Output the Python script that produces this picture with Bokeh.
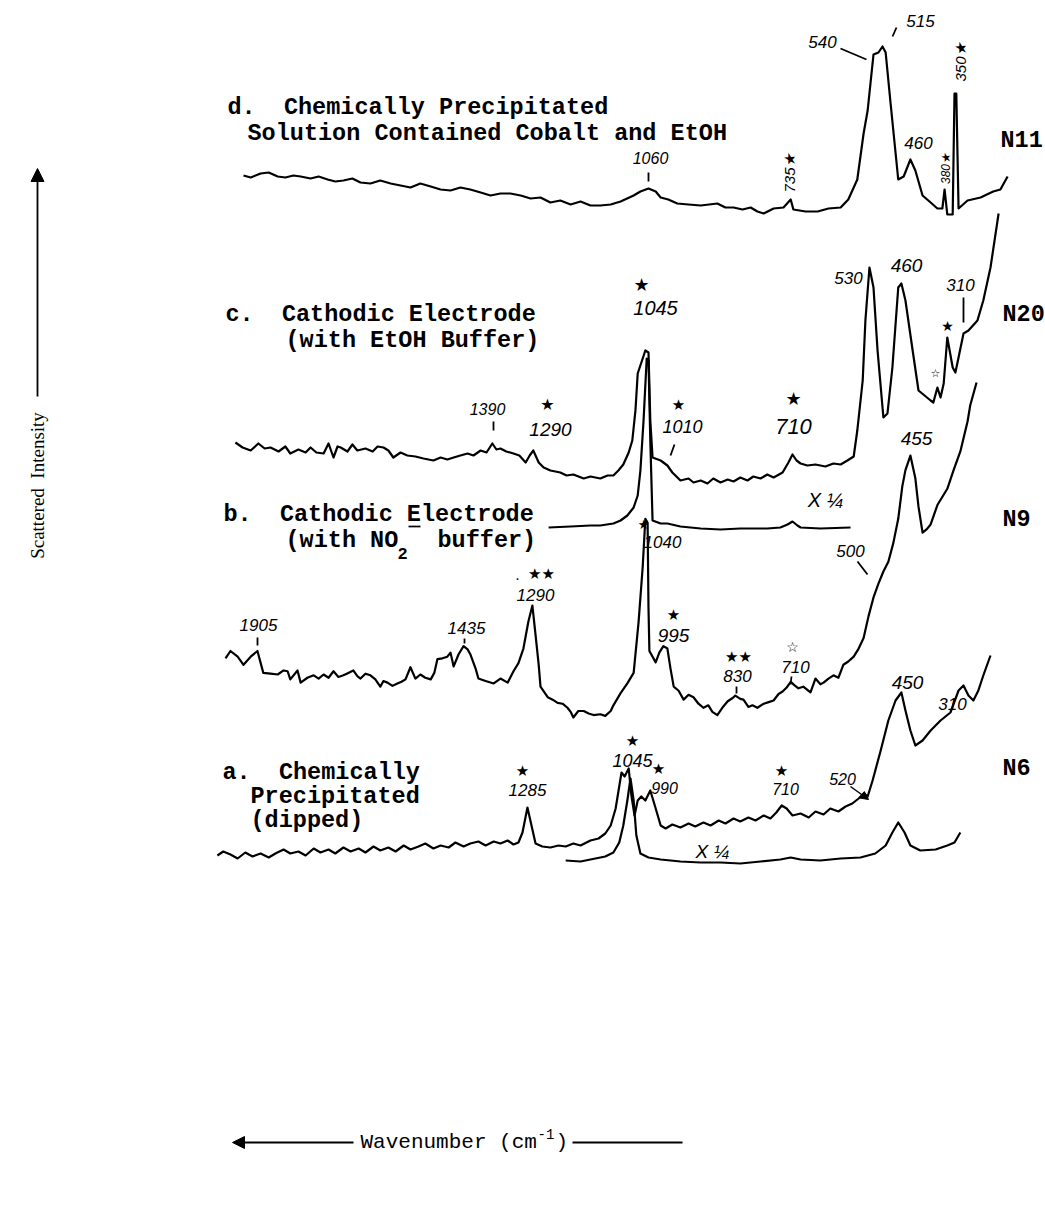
import math
from bokeh.plotting import figure
from bokeh.models import Range1d, Label, Arrow, NormalHead
from bokeh.embed import file_html
from bokeh.resources import INLINE

# ---------------- data (wavenumber cm-1, relative scattered intensity) ----------------
# d. chemically precipitated, cobalt + EtOH (N11)
d_wn = [1928,1912,1890,1872,1852,1835,1817,1801,1779,1761, 1741,1724,1706,1686,1668,1646,1624,1601,1579,1557,
        1535,1512,1490,1468,1446,1424,1401,1379,1357,1335, 1312,1290,1268,1246,1224,1201,1179,1157,1135,1112,
        1090,1061,1046,1028,1012,1001,984,964,939,912, 875,857,839,819,801,786,772,750,728,712,
        706,679,652,628,601,584,564,550,541,528, 517,508,501,490,473,461,446,435,419,401,
        386,375,370,364,352,348,344,339,319,290, 262,246,230]
d_int = [38,36,40,41,37,36,38,37,35,37, 34,32,33,35,31,30,33,30,28,26,
         30,27,24,23,26,24,21,18,20,20, 18,15,16,11,13,9,12,8,8,9,
         12,18,22,25,22,16,14,10,9,8, 10,6,6,4,6,2,0,5,6,14,
         4,2,2,5,6,14,34,80,103,159, 161,167,161,110,34,37,54,43,18,11,
         5,5,24,-1,-1,120,120,5,13,16, 22,24,37]

# c. cathodic electrode, EtOH buffer (N20)
c_wn = [1946,1930,1912,1895,1881,1868,1850,1835,1824,1806, 1790,1779,1766,1750,1739,1728,1719,1712,1697,1686,
        1675,1657,1641,1630,1617,1606,1595,1579,1564,1546, 1528,1506,1490,1475,1461,1446,1430,1417,1401,1388,
        1375,1366,1357,1344,1328,1315,1301,1292,1284,1272, 1261,1246,1224,1210,1195,1172,1157,1135,1119,1106,
        1095,1084,1072,1064,1057,1052,1035,1028,1024,1019, 1001,986,975,957,939,928,912,897,884,868,
        852,839,824,808,795,779,764,750,730,717, 708,699,690,675,657,635,617,601,586,572,
        564,552,546,537,528,519,506,497,486,473, 466,457,441,428,401,395,386,379,372,364,
        352,346,339,328,317,297,284,268,250]
c_int = [48,43,40,47,42,43,39,44,37,41, 38,43,38,37,47,33,44,43,39,46,
         40,42,39,44,43,40,33,38,35,34, 32,30,33,31,33,35,37,35,40,38,
         47,41,42,39,37,35,28,35,40,28, 23,20,18,15,16,12,14,12,15,15,
         20,26,38,50,80,117,140,138,70,33, 30,25,18,10,12,8,10,7,12,8,
         11,9,13,10,14,12,16,13,18,28, 36,30,27,25,26,24,27,26,30,34,
         60,110,170,223,203,140,73,77,123,203, 207,190,140,100,90,88,103,93,107,153,
         123,118,133,157,160,170,190,223,277]
# c. recorded at x 1/4
cq_wn = [1250,1201,1157,1135,1106,1090,1075,1061,1052,1046, 1039,1032,1028,1024,1019,1001,986,957,912,868,
         824,764,735,719,708,697,690,646,579]
cq_int = [0,1,2,2,4,7,12,20,32,57, 107,169,167,87,7,4,4,1,-1,-2,
          -1,-1,0,3,6,2,0,-1,0]

# b. cathodic electrode, NO2- buffer (N9)
b_wn = [1968,1957,1941,1928,1912,1897,1884,1868,1852,1839, 1830,1824,1808,1801,1786,1772,1761,1750,1739,1728,
        1717,1706,1695,1684,1675,1668,1657,1646,1635,1624, 1617,1608,1597,1586,1577,1568,1557,1546,1535,1524,
        1512,1504,1497,1486,1475,1468,1461,1450,1439,1430, 1424,1412,1406,1390,1372,1357,1341,1328,1317,1306,
        1295,1286,1279,1272,1268,1252,1241,1230,1219,1208, 1201,1195,1184,1172,1161,1150,1135,1124,1112,1106,
        1090,1075,1061,1050,1041,1035,1030,1028,1026,1012, 1004,995,986,979,972,961,950,939,928,917,
        906,895,886,875,864,852,841,835,824,817, 806,797,786,772,761,750,739,730,721,712,
        704,695,684,668,657,646,639,628,617,606, 595,584,572,561,550,539,528,517,506,495,
        484,473,464,457,446,435,428,419,410,401, 386,364,350,335,319,313,299]
b_int = [73,82,75,65,75,82,55,54,53,58, 57,47,58,43,49,52,48,53,49,57,
         50,52,55,58,51,48,54,52,47,38, 45,43,39,42,44,47,62,48,53,49,
         47,55,72,73,75,80,63,78,88,84, 78,60,48,45,42,48,43,57,67,85,
         118,138,102,65,38,25,22,18,17,12, 7,0,8,8,5,3,4,2,8,15,
         30,42,55,118,185,245,240,135,82,68, 80,88,85,60,38,33,22,28,25,17,
         12,15,7,3,12,20,24,27,23,22, 13,15,12,17,19,21,29,32,37,44,
         40,36,38,31,48,41,43,48,52,49, 65,69,75,85,98,125,148,165,180,192,
         215,245,285,305,323,295,260,228,232,238, 262,282,305,328,365,385,413]

# a. chemically precipitated, dipped (N6)
a_wn = [1986,1973,1957,1941,1924,1908,1890,1872,1857,1839, 1824,1806,1790,1772,1757,1739,1724,1706,1690,1672,
        1657,1639,1624,1606,1590,1572,1557,1539,1524,1506, 1490,1472,1457,1439,1424,1406,1390,1372,1357,1341,
        1328,1317,1308,1297,1288,1279,1264,1246,1228,1212, 1195,1179,1157,1139,1124,1112,1101,1088,1081,1072,
        1066,1059,1052,1044,1035,1024,1012,1001,990,975, 957,939,924,906,890,872,857,839,824,806,
        790,772,757,744,732,721,708,690,672,657, 639,624,606,590,575,561,550,541,530,512,
        495,479,466,457,446,435,419,401,379,357, 339,328,317,306,295,284,268]
a_int = [0,4,1,-3,3,-1,2,-2,2,6, 2,4,0,7,3,6,2,8,4,7,
         3,9,5,8,4,10,6,9,12,7, 10,8,13,9,12,14,10,14,12,15,
         11,13,23,48,30,12,9,8,10,9, 12,10,15,17,22,30,47,83,79,87,
         60,40,55,59,55,65,47,30,27,31, 28,32,29,33,30,35,32,37,34,38,
         35,40,37,43,50,47,40,42,38,44, 41,47,44,49,52,57,62,59,75,105,
         135,155,163,145,125,110,115,125,135,143, 165,170,160,155,165,180,200]
# a. recorded at x 1/4
aq_wn = [1212,1179,1146,1124,1106,1093,1084,1075,1068,1061, 1055,1046,1028,1001,957,912,868,824,779,735,
         712,690,646,601,557,524,501,486,473,459, 446,424,390,364,348,335]
aq_int = [2,1,4,6,10,20,37,62,84,62, 27,9,5,3,1,0,0,-1,1,3,
          5,3,2,4,5,9,17,30,40,30, 17,12,13,17,20,30]

# ---------------- layout ----------------
W, H = 1045, 1218
W0 = 2468.0          # wavenumber at the left edge
K = 20.0 / 9.0       # cm-1 per pixel
NB = "\u00a0"


def X(px):
    return W0 - K * px


def Y(py):
    return H - py


p = figure(width=W, height=H, x_range=Range1d(W0, X(W)), y_range=Range1d(0, H),
           output_backend="svg", toolbar_location=None, min_border=0,
           x_axis_type=None, y_axis_type=None)
p.grid.visible = False
p.outline_line_color = None
p.background_fill_color = "white"
p.border_fill_color = "white"

# (wavenumbers, intensities, baseline row in the page, display gain)
traces = [
    (d_wn, d_int, 213, 1.0),
    (c_wn, c_int, 490, 1.0),
    (cq_wn, cq_int, 527, 1.0),
    (b_wn, b_int, 717, 0.811),
    (a_wn, a_int, 855, 1.0),
    (aq_wn, aq_int, 862, 1.0),
]
for wn, inten, base, gain in traces:
    p.line(wn, [Y(base) + gain * v for v in inten], line_color="black", line_width=2.2, line_join="round")

TYPE = "Liberation Mono"
HAND = "Liberation Sans"
SYM = "DejaVu Sans"
CAP = "Liberation Serif"


def txt(px, py, s, size=18, font=HAND, style="italic", angle=0.0, align="center", baseline="middle"):
    p.add_layout(Label(x=X(px), y=Y(py), text=s.replace("  ", NB + NB), text_font=font,
                       text_font_size=f"{size}px", text_font_style=style, angle=angle,
                       text_align=align, text_baseline=baseline, text_color="black"))


def seg(x1, y1, x2, y2, w=1.8):
    p.line([X(x1), X(x2)], [Y(y1), Y(y2)], line_color="black", line_width=w)


def star(px, py, size=15):
    txt(px, py, "★", size=size, font=SYM, style="normal")


# typed titles
T = 23.5
TS = "bold"
txt(227, 107, "d.  Chemically Precipitated", T, TYPE, TS, align="left")
txt(247, 133, "Solution Contained Cobalt and EtOH", T, TYPE, TS, align="left")
txt(1000, 140, "N11", T, TYPE, TS, align="left")

txt(225, 314, "c.  Cathodic Electrode", T, TYPE, TS, align="left")
txt(285, 340, "(with EtOH Buffer)", T, TYPE, TS, align="left")
txt(1002, 314, "N20", T, TYPE, TS, align="left")

txt(223, 514, "b.  Cathodic Electrode", T, TYPE, TS, align="left")
txt(285, 540, "(with NO", T, TYPE, TS, align="left")
txt(397, 553, "2", 17, TYPE, TS, align="left")
seg(408, 526, 420, 526, 1.7)
txt(437, 540, "buffer)", T, TYPE, TS, align="left")
txt(1002, 519, "N9", T, TYPE, TS, align="left")

txt(222, 772, "a.  Chemically", T, TYPE, TS, align="left")
txt(250, 796, "Precipitated", T, TYPE, TS, align="left")
txt(250, 820, "(dipped)", T, TYPE, TS, align="left")
txt(1002, 768, "N6", T, TYPE, TS, align="left")

# hand-written annotations: d
txt(822, 41, "540", 17)
seg(840, 48, 866, 59)
txt(920, 20, "515", 17)
seg(892, 36, 896, 27)
txt(918, 142, "460", 17)
txt(960, 62, "350★", 15, angle=math.pi / 2)
txt(945, 168, "380★", 12, angle=math.pi / 2)
txt(650, 157, "1060", 16)
seg(648, 172, 648, 181)
txt(789, 173, "735★", 15, angle=math.pi / 2)

# c
star(641, 284, 18)
txt(655, 307, "1045", 20)
txt(848, 277, "530", 17)
txt(906, 265, "460", 19)
txt(960, 284, "310", 17)
seg(963, 297, 963, 322)
star(947, 325, 14)
txt(935, 373, "☆", 11, SYM, "normal")
star(678, 404, 15)
txt(682, 426, "1010", 18)
seg(670, 455, 674, 444)
star(793, 398, 18)
txt(793, 426, "710", 22)
txt(825, 499, "X ¼", 20)
txt(487, 408, "1390", 16)
seg(493, 421, 493, 430)
star(547, 404, 16)
txt(550, 429, "1290", 19)

# b
txt(258, 624, "1905", 17)
seg(257, 637, 257, 645)
txt(466, 627, "1435", 17)
seg(464, 638, 464, 643)
txt(541, 573, "★★", 15, SYM, "normal")
txt(517, 578, "·", 14, SYM, "normal")
txt(535, 594, "1290", 17)
star(643, 524, 13)
txt(662, 541, "1040", 17)
star(673, 614, 15)
txt(673, 635, "995", 19)
txt(738, 656, "★★", 15, SYM, "normal")
txt(737, 675, "830", 17)
seg(736, 686, 736, 693)
txt(792, 646, "☆", 14, SYM, "normal")
txt(795, 666, "710", 17)
seg(791, 676, 790, 684)
txt(850, 550, "500", 17)
seg(857, 561, 867, 574)
txt(916, 438, "455", 19)

# a
star(632, 740, 15)
txt(632, 760, "1045", 18)
star(522, 770, 15)
txt(527, 789, "1285", 17)
star(658, 768, 15)
txt(664, 787, "990", 16)
star(781, 770, 15)
txt(785, 788, "710", 16)
txt(842, 778, "520", 16)
p.add_layout(Arrow(end=NormalHead(size=8, fill_color="black", line_color="black"),
                   x_start=X(850), y_start=Y(786), x_end=X(868), y_end=Y(799),
                   line_width=1.5, line_color="black"))
txt(907, 682, "450", 19)
txt(952, 703, "310", 17)
txt(712, 851, "X ¼", 19)

# axis captions
txt(37, 485, "Scattered  Intensity", 19, CAP, "normal", angle=math.pi / 2)
p.add_layout(Arrow(end=NormalHead(size=13, fill_color="black", line_color="black"),
                   x_start=X(37), y_start=Y(396), x_end=X(37), y_end=Y(168),
                   line_width=1.8, line_color="black"))
txt(360, 1142, "Wavenumber (cm", 21, TYPE, "normal", align="left")
txt(537, 1133, "-1", 14, TYPE, "normal", align="left")
txt(555, 1142, ")", 21, TYPE, "normal", align="left")
p.add_layout(Arrow(end=NormalHead(size=12, fill_color="black", line_color="black"),
                   x_start=X(353), y_start=Y(1142), x_end=X(232), y_end=Y(1142),
                   line_width=1.8, line_color="black"))
seg(572, 1142, 682, 1142, 1.8)

open("out.html", "w").write(file_html(p, INLINE))
